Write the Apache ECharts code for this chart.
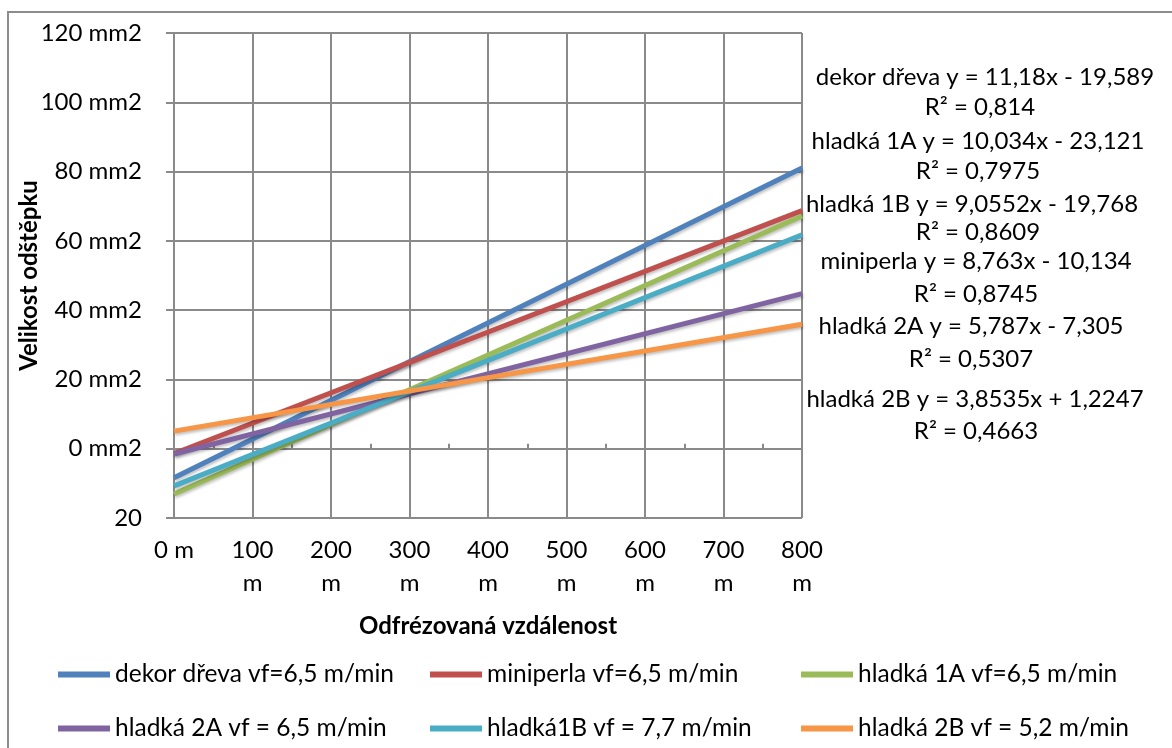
<!DOCTYPE html>
<html>
<head>
<meta charset="utf-8">
<style>
  html, body { margin: 0; padding: 0; background: #ffffff; }
  #chart { width: 1172px; height: 748px; }
</style>
<script src="https://cdn.jsdelivr.net/npm/echarts@6/dist/echarts.min.js"></script>
</head>
<body>
<div id="chart"></div>
<script>
// Milled distance (m): trend lines run across the whole axis
const distances = [0, 800];

// Series names as shown in the legend
const seriesNames = [
  'dekor dřeva vf=6,5 m/min',
  'miniperla vf=6,5 m/min',
  'hladká 1A vf=6,5 m/min',
  'hladká 2A vf = 6,5 m/min',
  'hladká1B vf = 7,7 m/min',
  'hladká 2B vf = 5,2 m/min'
];

// Chip size (mm2) of each linear trend at 0 m and at 800 m
const dekorDreva = [-8.41, 81.03];
const miniperla  = [-1.37, 68.73];
const hladka1A   = [-13.09, 67.19];
const hladka2A   = [-1.52, 44.78];
const hladka1B   = [-10.71, 61.73];
const hladka2B   = [5.08, 35.91];

const seriesValues = [dekorDreva, miniperla, hladka1A, hladka2A, hladka1B, hladka2B];
const seriesColors = ['#4F81BD', '#C0504D', '#9BBB59', '#8064A2', '#4BACC6', '#F79646'];

// Trend-line equations and fit quality
const trendEquations = [
  'dekor dřeva y = 11,18x - 19,589',
  'hladká 1A y = 10,034x - 23,121',
  'hladká 1B y = 9,0552x - 19,768',
  'miniperla y = 8,763x - 10,134',
  'hladká 2A y = 5,787x - 7,305',
  'hladká 2B y = 3,8535x + 1,2247'
];
const trendR2 = ['R² = 0,814', 'R² = 0,7975', 'R² = 0,8609', 'R² = 0,8745', 'R² = 0,5307', 'R² = 0,4663'];

// Axis ticks
const xTicks = [0, 100, 200, 300, 400, 500, 600, 700, 800];
const yTicks = [-20, 0, 20, 40, 60, 80, 100, 120];

const FONT = 'Lato';
const FS = 24;
const GRID = '#8a8a8a';

const chart = echarts.init(document.getElementById('chart'), null, { renderer: 'canvas' });

const series = seriesNames.map((name, i) => ({
  name: name,
  type: 'line',
  xAxisIndex: 0,
  symbol: 'none',
  silent: true,
  z: 3 + i,
  lineStyle: {
    width: 5,
    color: seriesColors[i],
    shadowColor: 'rgba(0,0,0,0.25)',
    shadowBlur: 3,
    shadowOffsetX: 1,
    shadowOffsetY: 2
  },
  itemStyle: { color: seriesColors[i] },
  data: distances.map((d, k) => [d, seriesValues[i][k]])
}));

// Legend: three columns, two rows
const legendCols = [53, 425, 796];
const legendRows = [657, 711];
const legends = seriesNames.map((name, i) => ({
  data: [name],
  left: legendCols[i % 3],
  top: legendRows[Math.floor(i / 3)],
  icon: 'rect',
  itemWidth: 52,
  itemHeight: 6,
  selectedMode: false,
  textStyle: { fontFamily: FONT, fontSize: FS + 0.5, color: '#000', lineHeight: 24 }
}));

// Equation labels on the right side
const eqCenters = [985, 978, 972, 976, 971, 975];
const r2Centers = [980, 978, 978, 976, 971, 976];
const eqY = [77, 141, 204, 261, 326, 399];
const r2Y = [107, 171, 232, 294, 359, 431];
const labelGraphics = [];
trendEquations.forEach((t, i) => {
  labelGraphics.push({
    type: 'text', x: eqCenters[i], y: eqY[i], silent: true,
    style: { text: t, fontFamily: FONT, fontSize: FS, fill: '#000', textAlign: 'center', textVerticalAlign: 'middle' }
  });
  labelGraphics.push({
    type: 'text', x: r2Centers[i], y: r2Y[i], silent: true,
    style: { text: trendR2[i], fontFamily: FONT, fontSize: FS, fill: '#000', textAlign: 'center', textVerticalAlign: 'middle' }
  });
});

const option = {
  animation: false,
  backgroundColor: '#ffffff',
  grid: { left: 174, right: 370, top: 33, bottom: 230, containLabel: false },
  legend: legends,
  xAxis: [
    {
      type: 'value',
      min: xTicks[0],
      max: xTicks[xTicks.length - 1],
      interval: 100,
      position: 'bottom',
      name: 'Odfrézovaná vzdálenost',
      nameLocation: 'middle',
      nameGap: 96,
      nameMoveOverlap: false,
      nameTextStyle: { fontFamily: FONT, fontSize: FS, fontWeight: 'bold', color: '#000' },
      axisLine: { show: false, onZero: false },
      axisTick: { show: false },
      axisLabel: {
        margin: 16,
        fontFamily: FONT, fontSize: FS, color: '#000', lineHeight: 33,
        formatter: v => (v === 0 ? v + ' m' : v + '\nm')
      },
      splitLine: { show: true, lineStyle: { color: GRID, width: 2 } }
    },
    {
      // horizontal axis drawn through zero with small ticks between grid lines
      type: 'value',
      min: xTicks[0],
      max: xTicks[xTicks.length - 1],
      interval: 100,
      position: 'bottom',
      axisLine: { show: true, onZero: true, lineStyle: { color: GRID, width: 2 } },
      axisTick: { show: false, inside: true },
      minorTick: { show: true, splitNumber: 2, length: 5, lineStyle: { color: GRID, width: 2 } },
      axisLabel: { show: false },
      splitLine: { show: false }
    }
  ],
  yAxis: {
    type: 'value',
    min: yTicks[0],
    max: yTicks[yTicks.length - 1],
    interval: 20,
    name: 'Velikost odštěpku',
    nameLocation: 'middle',
    nameGap: 133,
    nameMoveOverlap: false,
    nameTextStyle: { fontFamily: FONT, fontSize: FS, fontWeight: 'bold', color: '#000' },
    axisLine: { show: true, lineStyle: { color: GRID, width: 2 } },
    axisTick: { show: true, length: 8, lineStyle: { color: GRID, width: 2 } },
    axisLabel: {
      margin: 32,
      fontFamily: FONT, fontSize: FS, color: '#000',
      formatter: v => (v < 0 ? String(-v) : v + ' mm2')
    },
    splitLine: { show: true, lineStyle: { color: GRID, width: 2 } }
  },
  graphic: [
    {
      type: 'rect', silent: true, z: -10,
      shape: { x: 8, y: 12, width: 1180, height: 760 },
      style: { fill: 'none', stroke: '#8c8c8c', lineWidth: 2 }
    }
  ].concat(labelGraphics),
  series: series
};

chart.setOption(option);
</script>
</body>
</html>
